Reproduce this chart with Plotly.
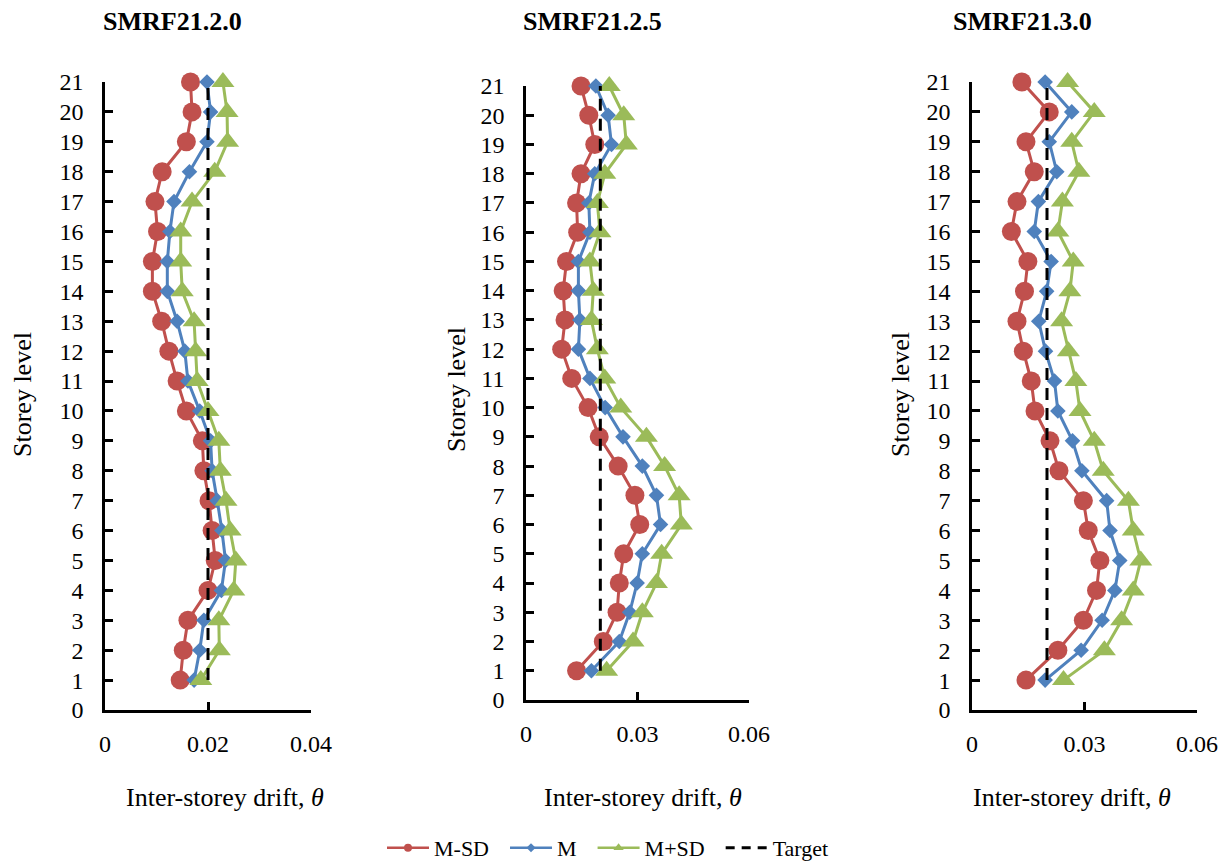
import plotly.graph_objects as go

levels = list(range(1, 22))

titles = ["SMRF21.2.0", "SMRF21.2.5", "SMRF21.3.0"]
series_names = ["M-SD", "M", "M+SD", "Target"]

# values listed from level 1 to level 21
p1_msd = [0.0146, 0.0152, 0.0161, 0.0200, 0.0214, 0.0208, 0.0202, 0.0192, 0.0189, 0.0158,
          0.0140, 0.0124, 0.0110, 0.0092, 0.0092, 0.0102, 0.0097, 0.0111, 0.0158, 0.0169, 0.0166]
p1_m = [0.0173, 0.0184, 0.0192, 0.0226, 0.0234, 0.0227, 0.0218, 0.0208, 0.0205, 0.0184,
        0.0161, 0.0155, 0.0140, 0.0121, 0.0121, 0.0126, 0.0134, 0.0164, 0.0198, 0.0205, 0.0198]
p1_mpsd = [0.0186, 0.0222, 0.0221, 0.0250, 0.0254, 0.0243, 0.0235, 0.0224, 0.0221, 0.0200,
           0.0179, 0.0176, 0.0173, 0.0150, 0.0147, 0.0147, 0.0169, 0.0213, 0.0238, 0.0237, 0.0229]

p2_msd = [0.0136, 0.0208, 0.0245, 0.0251, 0.0263, 0.0306, 0.0293, 0.0248, 0.0197, 0.0167,
          0.0123, 0.0096, 0.0105, 0.0100, 0.0109, 0.0139, 0.0136, 0.0148, 0.0185, 0.0169, 0.0148]
p2_m = [0.0176, 0.0251, 0.0279, 0.0299, 0.0313, 0.0362, 0.0351, 0.0313, 0.0261, 0.0213,
        0.0172, 0.0141, 0.0145, 0.0141, 0.0141, 0.0172, 0.0169, 0.0185, 0.0230, 0.0221, 0.0188]
p2_mpsd = [0.0217, 0.0288, 0.0313, 0.0351, 0.0365, 0.0418, 0.0412, 0.0373, 0.0324, 0.0255,
           0.0212, 0.0192, 0.0176, 0.0181, 0.0172, 0.0199, 0.0192, 0.0212, 0.0270, 0.0263, 0.0224]

p3_msd = [0.0144, 0.0229, 0.0297, 0.0332, 0.0341, 0.0310, 0.0297, 0.0232, 0.0208, 0.0168,
          0.0158, 0.0137, 0.0120, 0.0140, 0.0149, 0.0105, 0.0120, 0.0166, 0.0144, 0.0206, 0.0133]
p3_m = [0.0195, 0.0291, 0.0347, 0.0381, 0.0394, 0.0368, 0.0359, 0.0293, 0.0268, 0.0229,
        0.0220, 0.0196, 0.0178, 0.0199, 0.0211, 0.0166, 0.0177, 0.0226, 0.0206, 0.0266, 0.0195]
p3_mpsd = [0.0244, 0.0353, 0.0399, 0.0430, 0.0450, 0.0430, 0.0417, 0.0350, 0.0326, 0.0288,
           0.0277, 0.0257, 0.0239, 0.0261, 0.0270, 0.0229, 0.0241, 0.0285, 0.0266, 0.0326, 0.0255]

target_drift = [0.02, 0.02]
target_levels = [1, 21]

x_ranges = [[0, 0.04], [0, 0.06], [0, 0.06]]
x_dticks = [0.02, 0.03, 0.03]

panels = [(p1_msd, p1_m, p1_mpsd), (p2_msd, p2_m, p2_mpsd), (p3_msd, p3_m, p3_mpsd)]

W, H = 1231, 862
# pixel boxes of the plot areas: (left, right, top, bottom)
boxes = [(105, 311, 82, 710), (526, 749, 86, 700), (972, 1197, 82, 710)]

RED, BLUE, GREEN = "#C0504D", "#4F81BD", "#9BBB59"
FONT = "Liberation Serif"
PAD = "\u00a0\u00a0"

fig = go.Figure()

for i, (msd, m, mpsd) in enumerate(panels):
    xa = "x" if i == 0 else f"x{i+1}"
    ya = "y" if i == 0 else f"y{i+1}"
    fig.add_trace(go.Scatter(x=msd, y=levels, xaxis=xa, yaxis=ya, mode="lines+markers",
                             line=dict(color=RED, width=3),
                             marker=dict(symbol="circle", size=19, color=RED),
                             showlegend=False, cliponaxis=False))
    fig.add_trace(go.Scatter(x=m, y=levels, xaxis=xa, yaxis=ya, mode="lines+markers",
                             line=dict(color=BLUE, width=3),
                             marker=dict(symbol="diamond", size=12, color=BLUE),
                             showlegend=False, cliponaxis=False))
    fig.add_trace(go.Scatter(x=mpsd, y=levels, xaxis=xa, yaxis=ya, mode="lines+markers",
                             line=dict(color=GREEN, width=3),
                             marker=dict(symbol="triangle-up", size=20, color=GREEN),
                             showlegend=False, cliponaxis=False))
    fig.add_trace(go.Scatter(x=target_drift, y=target_levels, xaxis=xa, yaxis=ya, mode="lines",
                             line=dict(color="black", width=3, dash="12px,8px"),
                             showlegend=False, cliponaxis=False))

# legend-only entries with small markers
fig.add_trace(go.Scatter(x=[None], y=[None], mode="lines+markers", name=series_names[0] + PAD,
                         line=dict(color=RED, width=2.5), marker=dict(symbol="circle", size=8, color=RED)))
fig.add_trace(go.Scatter(x=[None], y=[None], mode="lines+markers", name=series_names[1] + PAD,
                         line=dict(color=BLUE, width=2.5), marker=dict(symbol="diamond", size=7, color=BLUE)))
fig.add_trace(go.Scatter(x=[None], y=[None], mode="lines+markers", name=series_names[2] + PAD,
                         line=dict(color=GREEN, width=2.5), marker=dict(symbol="triangle-up", size=9, color=GREEN)))
fig.add_trace(go.Scatter(x=[None], y=[None], mode="lines", name=series_names[3],
                         line=dict(color="black", width=3, dash="9px,7px")))

layout = dict(width=W, height=H, margin=dict(l=0, r=0, t=0, b=0, autoexpand=False),
              paper_bgcolor="white", plot_bgcolor="white",
              font=dict(family=FONT, size=24, color="black"),
              showlegend=True,
              legend=dict(orientation="h", x=608 / W, xanchor="center", y=14 / H, yanchor="middle",
                          itemwidth=42,
                          font=dict(family=FONT, size=22, color="black"),
                          bgcolor="rgba(0,0,0,0)"))

annotations = []
title_x = [172, 592, 1022]
xtitle_x = [225, 643, 1072]
ytitle_x = [22, 456, 900]
ytitle_y = [395, 390, 395]

for i, (l, r, t, b) in enumerate(boxes):
    sx = "" if i == 0 else str(i + 1)
    layout["xaxis" + sx] = dict(domain=[l / W, r / W], range=x_ranges[i], dtick=x_dticks[i], tick0=0,
                                anchor="y" + sx, showgrid=False, zeroline=False, automargin=False,
                                showline=True, linecolor="black", linewidth=2.5,
                                ticks="inside", ticklen=8, tickwidth=2.5, tickcolor="black",
                                ticklabelstandoff=10,
                                tickfont=dict(family=FONT, size=24, color="black"))
    layout["yaxis" + sx] = dict(domain=[(H - b) / H, (H - t) / H], range=[0, 21], dtick=1, tick0=0,
                                anchor="x" + sx, showgrid=False, zeroline=False, automargin=False,
                                showline=True, linecolor="black", linewidth=2.5,
                                ticks="inside", ticklen=8, tickwidth=2.5, tickcolor="black",
                                ticklabelstandoff=14,
                                tickfont=dict(family=FONT, size=24, color="black"))
    annotations.append(dict(text="<b>" + titles[i] + "</b>", x=title_x[i] / W, y=(H - 22) / H,
                            xref="paper", yref="paper", showarrow=False, xanchor="center", yanchor="middle",
                            font=dict(family=FONT, size=26, color="black")))
    annotations.append(dict(text="Inter-storey drift, <i>θ</i>", x=xtitle_x[i] / W, y=(H - 797) / H,
                            xref="paper", yref="paper", showarrow=False, xanchor="center", yanchor="middle",
                            font=dict(family=FONT, size=26, color="black")))
    annotations.append(dict(text="Storey level", x=ytitle_x[i] / W, y=(H - ytitle_y[i]) / H,
                            xref="paper", yref="paper", showarrow=False, xanchor="center", yanchor="middle",
                            textangle=-90, font=dict(family=FONT, size=26, color="black")))

layout["annotations"] = annotations
fig.update_layout(**layout)

fig.write_html("out.html", config={"displayModeBar": False},
               post_script="document.body.style.margin='0';document.body.style.overflow='hidden';")
